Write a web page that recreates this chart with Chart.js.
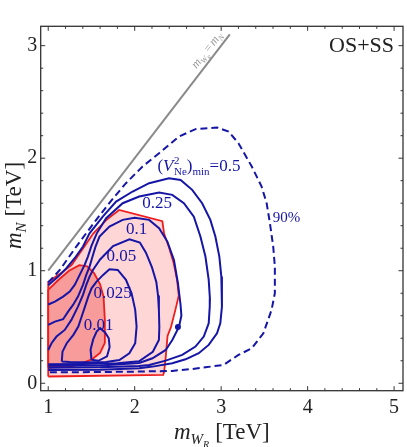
<!DOCTYPE html>
<html><head><meta charset="utf-8">
<script src="https://cdn.jsdelivr.net/npm/chart.js@4.4.0/dist/chart.umd.min.js"></script>
<style>html,body{margin:0;padding:0;background:#fff;overflow:hidden}</style>
</head><body>
<canvas id="c" width="407" height="447"></canvas>
<script>
// ---- data (TeV) ----
const xTicks=[1,2,3,4,5];
const yTicks=[0,1,2,3];
const xMinor=[1.2,1.4,1.6,1.8,2.2,2.4,2.6,2.8,3.2,3.4,3.6,3.8,4.2,4.4,4.6,4.8];
const yMinor=[0.2,0.4,0.6,0.8,1.2,1.4,1.6,1.8,2.2,2.4,2.6,2.8];
const diagLine=[[1,1],[3.1,3.1]];
const redOuter=[[1.0,0.06],[2.33,0.075],[2.34,0.10],[2.36,0.24],[2.38,0.42],[2.42,0.50],[2.47,0.65],[2.51,0.78],[2.49,0.92],[2.45,1.07],[2.40,1.20],[2.34,1.33],[2.32,1.44],[1.82,1.54],[1.67,1.45],[1.52,1.33],[1.44,1.24],[1.36,1.15],[1.27,1.05],[1.13,0.97],[1.0,0.90],[1.0,0.06]];
const redInner=[[1.0,0.14],[1.0,0.83],[1.12,0.92],[1.24,1.00],[1.36,1.05],[1.45,1.04],[1.53,0.98],[1.60,0.88],[1.64,0.77],[1.655,0.56],[1.655,0.36],[1.60,0.27],[1.50,0.21],[1.39,0.18],[1.30,0.155],[1.0,0.14]];
const c90=[[1.0,0.895],[1.134,1.007],[1.325,1.215],[1.555,1.452],[1.72,1.615],[1.899,1.778],[2.091,1.926],[2.282,2.044],[2.512,2.193],[2.703,2.258],[2.952,2.273],[3.086,2.237],[3.2,2.133],[3.354,1.926],[3.468,1.748],[3.526,1.6],[3.564,1.422],[3.602,1.215],[3.621,1.037],[3.621,0.8],[3.583,0.652],[3.488,0.444],[3.354,0.311],[3.2,0.252],[3.028,0.163],[2.818,0.142],[2.665,0.127],[2.435,0.11],[2.052,0.104],[1.593,0.10],[1.0,0.097]];
const c05=[[1.0,0.87],[1.115,0.948],[1.21,1.022],[1.306,1.111],[1.402,1.215],[1.478,1.333],[1.631,1.481],[1.785,1.615],[1.976,1.704],[2.167,1.778],[2.397,1.822],[2.531,1.807],[2.665,1.719],[2.78,1.60],[2.875,1.452],[2.933,1.304],[2.979,1.126],[3.002,0.948],[3.009,0.80],[3.009,0.681],[2.99,0.533],[2.952,0.444],[2.856,0.341],[2.741,0.267],[2.588,0.213],[2.435,0.178],[2.206,0.148],[2.052,0.133],[1.6,0.12],[1.0,0.117]];
const c025=[[1.0,0.70],[1.077,0.726],[1.172,0.77],[1.249,0.815],[1.306,0.874],[1.364,0.963],[1.421,1.052],[1.459,1.126],[1.50,1.22],[1.56,1.33],[1.67,1.467],[1.861,1.60],[2.052,1.659],[2.282,1.695],[2.435,1.674],[2.569,1.60],[2.684,1.481],[2.76,1.304],[2.818,1.126],[2.856,0.919],[2.87,0.75],[2.868,0.681],[2.856,0.533],[2.799,0.415],[2.703,0.326],[2.55,0.252],[2.359,0.201],[2.167,0.163],[2.052,0.154],[1.6,0.142],[1.0,0.137]];
const c01=[[1.0,0.519],[1.077,0.548],[1.172,0.569],[1.23,0.637],[1.287,0.696],[1.344,0.77],[1.402,0.874],[1.44,0.963],[1.478,1.037],[1.51,1.12],[1.545,1.21],[1.593,1.304],[1.708,1.393],[1.861,1.452],[2.0,1.47],[2.167,1.452],[2.282,1.378],[2.378,1.259],[2.454,1.096],[2.50,0.889],[2.53,0.70],[2.54,0.60],[2.512,0.50],[2.435,0.385],[2.359,0.296],[2.206,0.222],[2.052,0.18],[1.6,0.158],[1.0,0.155]];
const c005=[[1.0,0.296],[1.038,0.356],[1.096,0.415],[1.191,0.474],[1.268,0.563],[1.344,0.681],[1.402,0.785],[1.44,0.874],[1.478,0.948],[1.517,1.007],[1.60,1.10],[1.75,1.22],[1.94,1.28],[2.06,1.25],[2.13,1.16],[2.20,1.03],[2.25,0.90],[2.27,0.78],[2.28,0.65],[2.285,0.50],[2.28,0.385],[2.21,0.28],[2.05,0.195],[1.8,0.178],[1.4,0.172],[1.0,0.17]];
const c0025=[[1.157,0.193],[1.165,0.281],[1.214,0.356],[1.291,0.43],[1.348,0.504],[1.387,0.593],[1.425,0.681],[1.463,0.77],[1.501,0.844],[1.559,0.904],[1.635,0.963],[1.708,1.013],[1.804,1.007],[1.899,0.919],[1.964,0.80],[2.006,0.652],[2.022,0.504],[2.006,0.356],[1.938,0.267],[1.823,0.207],[1.67,0.19],[1.44,0.186],[1.249,0.188],[1.157,0.193]];
const c001=[[1.50,0.21],[1.49,0.30],[1.52,0.39],[1.56,0.46],[1.60,0.49],[1.66,0.45],[1.70,0.40],[1.71,0.32],[1.68,0.24],[1.58,0.20],[1.50,0.21]];
const bestPoint=[[2.5,0.5]];
const levelLabels=['0.25','0.1','0.05','0.025','0.01'];
const levelLabelX=[2.259,2.022,1.846,1.746,1.582];
const levelLabelY=[1.60,1.363,1.125,0.80,0.511];

const BLUE='#1515a6', RED='#ee1c1c';
const pts=a=>a.map(p=>({x:p[0],y:p[1]}));
const line=(d,o)=>Object.assign({data:pts(d),showLine:true,pointRadius:0,borderWidth:2,borderColor:BLUE,fill:false,tension:0,order:5},o||{});

const SERIF='"Liberation Serif","DejaVu Serif",serif';
function rich(ctx,parts,x,y,align){
  let w=0;
  for(const p of parts){ctx.font=p.f; if(p.adv!==false) w+=ctx.measureText(p.t).width+(p.sp||0);}
  let cx=align==='center'?x-w/2:(align==='right'?x-w:x);
  ctx.textAlign='left'; ctx.textBaseline='alphabetic';
  for(const p of parts){ctx.font=p.f; ctx.fillText(p.t,cx,y+(p.dy||0)); if(p.adv!==false) cx+=ctx.measureText(p.t).width+(p.sp||0);}
}

const decor={id:'decor',afterDraw(chart){
  const {ctx,chartArea:a,scales:{x,y}}=chart;
  ctx.save();
  ctx.strokeStyle='#333'; ctx.lineWidth=1;
  ctx.beginPath();
  const tx=(v,len)=>{const px=x.getPixelForValue(v);ctx.moveTo(px,a.bottom);ctx.lineTo(px,a.bottom-len);ctx.moveTo(px,a.top);ctx.lineTo(px,a.top+len);};
  const ty=(v,len)=>{const py=y.getPixelForValue(v);ctx.moveTo(a.left,py);ctx.lineTo(a.left+len,py);ctx.moveTo(a.right,py);ctx.lineTo(a.right-len,py);};
  xTicks.forEach(v=>tx(v,4.5)); xMinor.forEach(v=>tx(v,2.5));
  yTicks.forEach(v=>ty(v,4.5)); yMinor.forEach(v=>ty(v,2.5));
  ctx.stroke();
  ctx.lineWidth=1.3; ctx.strokeRect(a.left,a.top,a.right-a.left,a.bottom-a.top);
  // axis titles
  ctx.fillStyle='#222';
  rich(ctx,[{t:'m',f:'italic 23px '+SERIF},{t:'W',f:'italic 15px '+SERIF,dy:5},{t:'R',f:'italic 10px '+SERIF,dy:9,sp:6},{t:'[TeV]',f:'23px '+SERIF}],(a.left+a.right)/2,439,'center');
  ctx.save(); ctx.translate(21,(a.top+a.bottom)/2-3); ctx.rotate(-Math.PI/2);
  rich(ctx,[{t:'m',f:'italic 23px '+SERIF},{t:'N',f:'italic 15px '+SERIF,dy:5,sp:6},{t:'[TeV]',f:'23px '+SERIF}],0,0,'center');
  ctx.restore();
  // OS+SS
  rich(ctx,[{t:'OS+SS',f:'22px '+SERIF}],x.getPixelForValue(5.0),y.getPixelForValue(2.94),'right');
  // contour labels
  ctx.fillStyle=BLUE;
  ctx.textAlign='center'; ctx.textBaseline='middle'; ctx.font='17px '+SERIF;
  levelLabels.forEach((t,i)=>ctx.fillText(t,x.getPixelForValue(levelLabelX[i]),y.getPixelForValue(levelLabelY[i])));
  ctx.font='15px '+SERIF; ctx.fillText('90%',x.getPixelForValue(3.756),y.getPixelForValue(1.466));
  rich(ctx,[{t:'(',f:'17px '+SERIF},{t:'V',f:'italic 17px '+SERIF,sp:0.5},{t:'2',f:'11px '+SERIF,dy:-7,adv:false},{t:'Ne',f:'11px '+SERIF,dy:4},{t:')',f:'17px '+SERIF},{t:'min',f:'11px '+SERIF,dy:4},{t:'=0.5',f:'17px '+SERIF}],x.getPixelForValue(2.263),y.getPixelForValue(1.89),'left');
  // diagonal label
  ctx.fillStyle='#999';
  ctx.save(); ctx.translate(x.getPixelForValue(2.83),y.getPixelForValue(2.965));
  ctx.rotate(-Math.atan2(y.getPixelForValue(0)-y.getPixelForValue(1),x.getPixelForValue(1)-x.getPixelForValue(0)));
  rich(ctx,[{t:'m',f:'italic 12px '+SERIF},{t:'W',f:'italic 8px '+SERIF,dy:3},{t:'R',f:'italic 6px '+SERIF,dy:5,sp:1.5},{t:'=',f:'12px '+SERIF,sp:1.5},{t:'m',f:'italic 12px '+SERIF},{t:'N',f:'italic 8px '+SERIF,dy:3}],0,4,'center');
  ctx.restore();
  ctx.restore();
}};

new Chart(document.getElementById('c'),{
  type:'scatter',
  data:{datasets:[
    line(redOuter,{borderColor:RED,borderWidth:1.8,backgroundColor:'rgb(255,214,214)',fill:'shape',order:20}),
    line(redInner,{borderColor:RED,borderWidth:1.8,backgroundColor:'rgb(247,155,155)',fill:'shape',order:19}),
    line(diagLine,{borderColor:'#8a8a8a',borderWidth:2,order:15}),
    line(c90,{borderDash:[7,4]}),
    line(c05),line(c025),line(c01),line(c005),line(c0025),line(c001),
    {data:pts(bestPoint),pointRadius:3,pointBackgroundColor:BLUE,pointBorderWidth:0,order:1}
  ]},
  options:{
    responsive:false,animation:false,devicePixelRatio:1,
    layout:{padding:{left:0,right:1.3,top:26.3,bottom:0}},
    plugins:{legend:{display:false},tooltip:{enabled:false}},
    scales:{
      x:{type:'linear',min:0.913,max:5.103,
        afterBuildTicks:s=>{s.ticks=xTicks.map(v=>({value:v}));},
        afterFit:s=>{s.height=56.3;},
        grid:{display:false,drawTicks:false},border:{display:false},
        ticks:{font:{family:SERIF,size:20},color:'#222',padding:5,maxRotation:0,autoSkip:false,callback:v=>String(v)}},
      y:{type:'linear',min:-0.066,max:3.172,
        afterBuildTicks:s=>{s.ticks=yTicks.map(v=>({value:v}));},
        afterFit:s=>{s.width=40.7;},
        grid:{display:false,drawTicks:false},border:{display:false},
        ticks:{font:{family:SERIF,size:20},color:'#222',padding:3.5,autoSkip:false,callback:v=>String(v)}}
    }
  },
  plugins:[decor]
});
</script>
</body></html>
